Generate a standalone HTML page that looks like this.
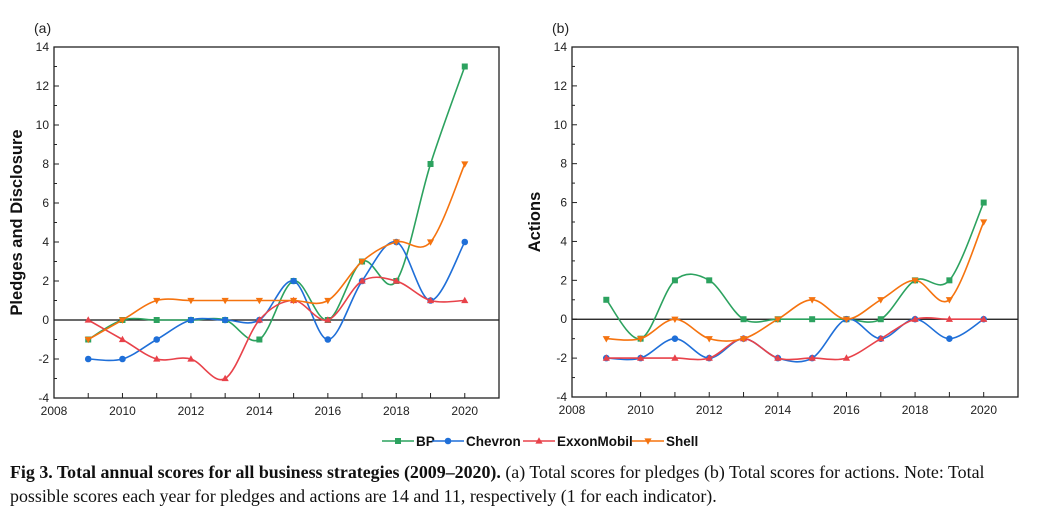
<!DOCTYPE html>
<html><head><meta charset="utf-8"><style>
body{margin:0;background:#fff;width:1041px;height:505px;overflow:hidden;font-family:"Liberation Sans",Arial,sans-serif}
.cap{position:absolute;left:10px;top:460px;width:1020px;font-family:"Liberation Serif",serif;font-size:17.9px;line-height:24px;color:#111}
</style></head><body>
<svg id="chart" width="1041" height="460" style="position:absolute;left:0;top:0" font-family="Liberation Sans, Arial, sans-serif"></svg>
<div class="cap"><b>Fig 3. Total annual scores for all business strategies (2009–2020).</b> (a) Total scores for pledges (b) Total scores for actions. Note: Total possible scores each year for pledges and actions are 14 and 11, respectively (1 for each indicator).</div>
<script>
const years=[2009,2010,2011,2012,2013,2014,2015,2016,2017,2018,2019,2020];
const yTicks=[-4,-2,0,2,4,6,8,10,12,14];
const xTicks=[2008,2010,2012,2014,2016,2018,2020];
const seriesNames=["BP","Chevron","ExxonMobil","Shell"];
const colors=["#2ca25f","#1f6fd8","#e8424a","#f5730f"];
const aBP=[-1,0,0,0,0,-1,2,0,3,2,8,13];
const aChevron=[-2,-2,-1,0,0,0,2,-1,2,4,1,4];
const aExxon=[0,-1,-2,-2,-3,0,1,0,2,2,1,1];
const aShell=[-1,0,1,1,1,1,1,1,3,4,4,8];
const bBP=[1,-1,2,2,0,0,0,0,0,2,2,6];
const bChevron=[-2,-2,-1,-2,-1,-2,-2,0,-1,0,-1,0];
const bExxon=[-2,-2,-2,-2,-1,-2,-2,-2,-1,0,0,0];
const bShell=[-1,-1,0,-1,-1,0,1,0,1,2,1,5];
const NS="http://www.w3.org/2000/svg";
const svg=document.getElementById('chart');
function mk(tag,attrs,parent){const e=document.createElementNS(NS,tag);for(const k in attrs)e.setAttribute(k,attrs[k]);(parent||svg).appendChild(e);return e;}
function spline(pts){let d=`M${pts[0][0]},${pts[0][1]}`;for(let i=0;i<pts.length-1;i++){const p0=pts[Math.max(0,i-1)],p1=pts[i],p2=pts[i+1],p3=pts[Math.min(pts.length-1,i+2)];const c1=[p1[0]+(p2[0]-p0[0])/6,p1[1]+(p2[1]-p0[1])/6],c2=[p2[0]-(p3[0]-p1[0])/6,p2[1]-(p3[1]-p1[1])/6];d+=` C${c1[0]},${c1[1]} ${c2[0]},${c2[1]} ${p2[0]},${p2[1]}`;}return d;}
function marker(g,i,x,y){const c=colors[i];let m;
 if(i===0)m=mk('rect',{x:x-3,y:y-3,width:6,height:6,fill:c},g);
 else if(i===1)m=mk('circle',{cx:x,cy:y,r:3.3,fill:c},g);
 else if(i===2)m=mk('path',{d:`M${x},${y-3.8}L${x+3.6},${y+2.6}L${x-3.6},${y+2.6}Z`,fill:c},g);
 else m=mk('path',{d:`M${x},${y+3.8}L${x+3.6},${y-2.6}L${x-3.6},${y-2.6}Z`,fill:c},g);
 
 }
function panel(L,R,T,B,label,title,data,pid){
 const g=mk('g',{});
 const xs=v=>L+(v-2008)*(R-L)/13, ys=v=>B-(v+4)*(B-T)/18;
 const lab=mk('text',{x:L-20,y:T-14,'font-size':14,fill:'#222'},g);lab.textContent=label;
 
 for(let v=-4;v<=14;v++){mk('line',{x1:L,x2:L+(v%2===0?5:3),y1:ys(v),y2:ys(v),stroke:'#222','stroke-width':1},g);}
 yTicks.forEach(v=>{const t=mk('text',{x:L-5,y:ys(v)+4,'font-size':12,'text-anchor':'end',fill:'#222'},g);t.textContent=v;});
 years.forEach(v=>mk('line',{x1:xs(v),x2:xs(v),y1:B,y2:B-5,stroke:'#222'},g));
 xTicks.forEach(v=>{const t=mk('text',{x:xs(v),y:B+17,'font-size':12,'text-anchor':'middle',fill:'#222'},g);t.textContent=v;});
 const yt=mk('text',{transform:`translate(${L-32},${(T+B)/2}) rotate(-90)`,'font-size':16.5,'font-weight':'bold','text-anchor':'middle',fill:'#111'},g);yt.textContent=title;
 
 mk('line',{x1:L,x2:R,y1:ys(0),y2:ys(0),stroke:'#111','stroke-width':1.2},g);
 data.forEach((arr,i)=>{const pts=years.map((y,j)=>[xs(y),ys(arr[j])]);
  const p=mk('path',{d:spline(pts),fill:'none',stroke:colors[i],'stroke-width':1.6},g);
  
  pts.forEach(q=>marker(g,i,q[0],q[1]));});
 const f=mk('rect',{x:L,y:T,width:R-L,height:B-T,fill:'none',stroke:'#222','stroke-width':1.3},g);
 
}
panel(54,499,47,398,'(a)','Pledges and Disclosure',[aBP,aChevron,aExxon,aShell],'a');
panel(572,1018,47,397,'(b)','Actions',[bBP,bChevron,bExxon,bShell],'b');
const lg=mk('g',{});
const lx=[382,432,523,632];
seriesNames.forEach((n,i)=>{const e=mk('g',{},lg);
 mk('line',{x1:lx[i],x2:lx[i]+32,y1:441,y2:441,stroke:colors[i],'stroke-width':1.6},e);marker(e,i,lx[i]+16,441);
 const t=mk('text',{x:lx[i]+34,y:446,'font-size':13.5,'font-weight':'bold',fill:'#111'},e);t.textContent=n;});
</script>
</body></html>
